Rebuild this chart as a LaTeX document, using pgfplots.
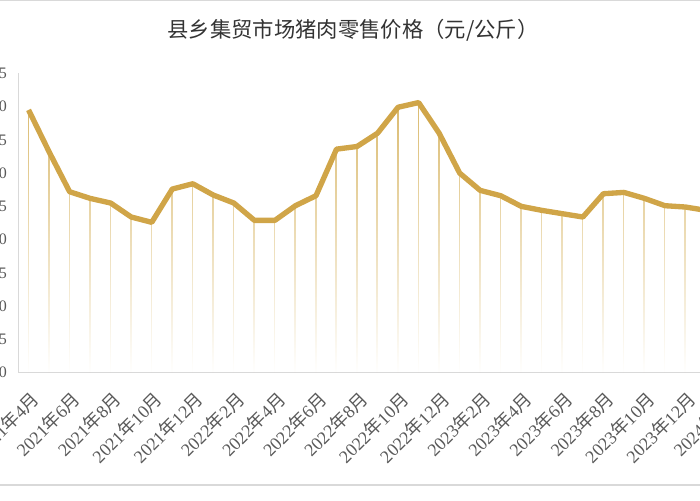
\documentclass[border=0pt]{standalone}
\usepackage{pgfplots}
\pgfplotsset{compat=1.18}
\usetikzlibrary{fadings}
\usepackage{fontspec}
\setmainfont{Liberation Serif}
\newfontfamily\cjk{Noto Sans CJK SC}
\newcommand{\ym}[2]{#1{\cjk 年}#2{\cjk 月}}
\definecolor{gold}{RGB}{208,165,72}
\definecolor{drop}{RGB}{218,186,110}
\definecolor{txt}{RGB}{89,89,89}
\definecolor{frame}{RGB}{217,217,217}

% monthly price, 2021-04 .. 2024-01
\pgfplotstableread{
i v
0 39.5
1 33.2
2 27.2
3 26.2
4 25.5
5 23.4
6 22.6
7 27.6
8 28.4
9 26.7
10 25.5
11 22.9
12 22.9
13 25.1
14 26.6
15 33.6
16 34.0
17 36.0
18 39.9
19 40.6
20 36.0
21 30.0
22 27.4
23 26.6
24 25.0
25 24.4
26 23.9
27 23.4
28 26.9
29 27.1
30 26.2
31 25.1
32 24.9
33 24.4
}\prices

\begin{document}
\begin{tikzpicture}
\useasboundingbox (-13.725pt,-95.475pt) rectangle (511.275pt,279.525pt);
\clip (-13.725pt,-95.475pt) rectangle (511.275pt,279.525pt);
\draw[frame, line width=1pt] (-20pt,-84.2pt) -- (530pt,-84.2pt);
\draw[frame, line width=1.2pt] (-20pt,279.3pt) -- (530pt,279.3pt);
\begin{axis}[
    scale only axis,
    width=538.9pt, height=224.55pt,
    xmin=-0.5, xmax=34.5,
    ymin=0, ymax=45,
    ytick={0,5,...,45},
    xtick={0,2,...,34},
    xticklabels={\ym{2021}{4},\ym{2021}{6},\ym{2021}{8},\ym{2021}{10},\ym{2021}{12},
      \ym{2022}{2},\ym{2022}{4},\ym{2022}{6},\ym{2022}{8},\ym{2022}{10},\ym{2022}{12},
      \ym{2023}{2},\ym{2023}{4},\ym{2023}{6},\ym{2023}{8},\ym{2023}{10},\ym{2023}{12},
      \ym{2024}{2}},
    axis x line*=bottom,
    axis y line*=left,
    axis line style={frame, line width=0.8pt},
    major tick length=0pt,
    tick label style={font=\fontsize{12}{14}\selectfont, text=txt},
    xticklabel style={rotate=45, anchor=east, font=\fontsize{13.5}{15}\selectfont,
      xshift=-5pt, yshift=-16pt},
    yticklabel style={xshift=-5pt},
    /pgf/number format/assume math mode=true,
    title={\cjk 县乡集贸市场猪肉零售价格（元/公斤）},
    title style={at={(0.466,1.118)}, anchor=center,
      font=\fontsize{16}{19}\selectfont, text=black!80},
]
\addplot[ycomb, draw=drop, line width=1.2pt, path fading=south, forget plot]
  table[x=i, y=v] {\prices};
\addplot[gold, line width=4pt, line join=round, mark=none]
  table[x=i, y=v] {\prices};
\end{axis}
\end{tikzpicture}
\end{document}
